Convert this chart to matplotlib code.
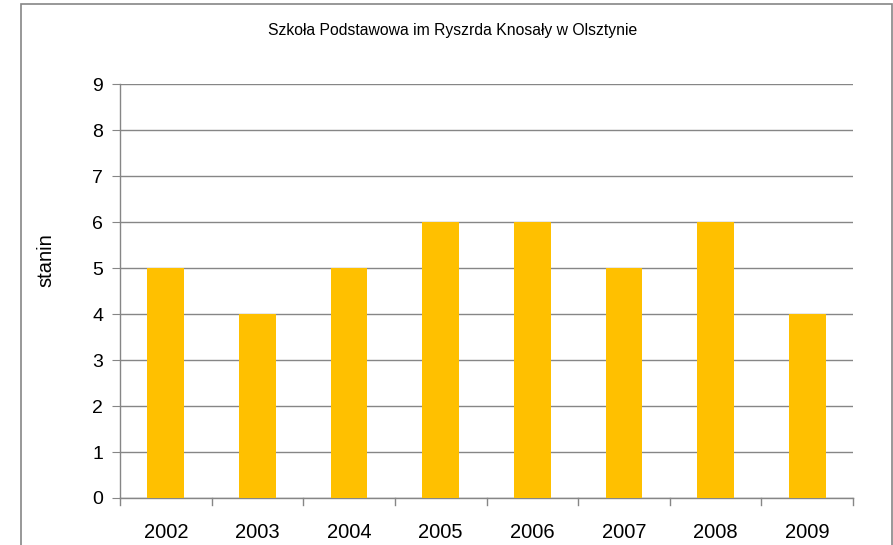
import matplotlib
matplotlib.use("Agg")
import matplotlib.pyplot as plt
from matplotlib.patches import Rectangle

years = ["2002", "2003", "2004", "2005", "2006", "2007", "2008", "2009"]
stanin = [5, 4, 5, 6, 6, 5, 6, 4]
yticks = list(range(0, 10))
title = "Szkoła Podstawowa im Ryszrda Knosały w Olsztynie"
ylabel = "stanin"

plt.rcParams['font.family'] = ['Liberation Sans', 'DejaVu Sans']

fig = plt.figure(figsize=(8.93, 5.45), dpi=100)
ax = fig.add_axes([120/893, 1-498/545, (853-120)/893, (498-84.3)/545])

x = list(range(len(years)))
ax.bar(x, stanin, width=0.4, color="#FFC000", zorder=3)
ax.set_xlim(-0.5, len(years)-0.5)
ax.set_ylim(0, 9)
ax.set_yticks(yticks)
ax.set_yticklabels([str(v) for v in yticks], fontsize=14)
ax.set_xticks(x)
ax.set_xticklabels(years, fontsize=14.5)
ax.tick_params(axis='x', length=0, pad=18)
ax.tick_params(axis='y', length=6, color="#868686", pad=6)
# category boundary ticks on x axis
for b in [i - 0.5 for i in range(len(years)+1)]:
    ax.plot([b, b], [0, -0.15], color="#868686", lw=1, clip_on=False, zorder=4)
ax.yaxis.grid(True, color="#868686", lw=1, zorder=0)
for s in ['top', 'right']:
    ax.spines[s].set_visible(False)
for s in ['left', 'bottom']:
    ax.spines[s].set_color("#868686")
    ax.spines[s].set_linewidth(1)
fig.text(46/893, 1-260/545, ylabel, fontsize=14.5, rotation=90, ha='center', va='center')
fig.text(453/893, 1-31/545, title, fontsize=11.3, ha='center', va='center')

fig.patches.append(Rectangle((20.5/893, -0.05), (891.5-20.5)/893, 1.05-3.5/545,
                             transform=fig.transFigure, fill=False,
                             edgecolor="#868686", lw=1.2, clip_on=False))

fig.savefig("out.png", dpi=100)
